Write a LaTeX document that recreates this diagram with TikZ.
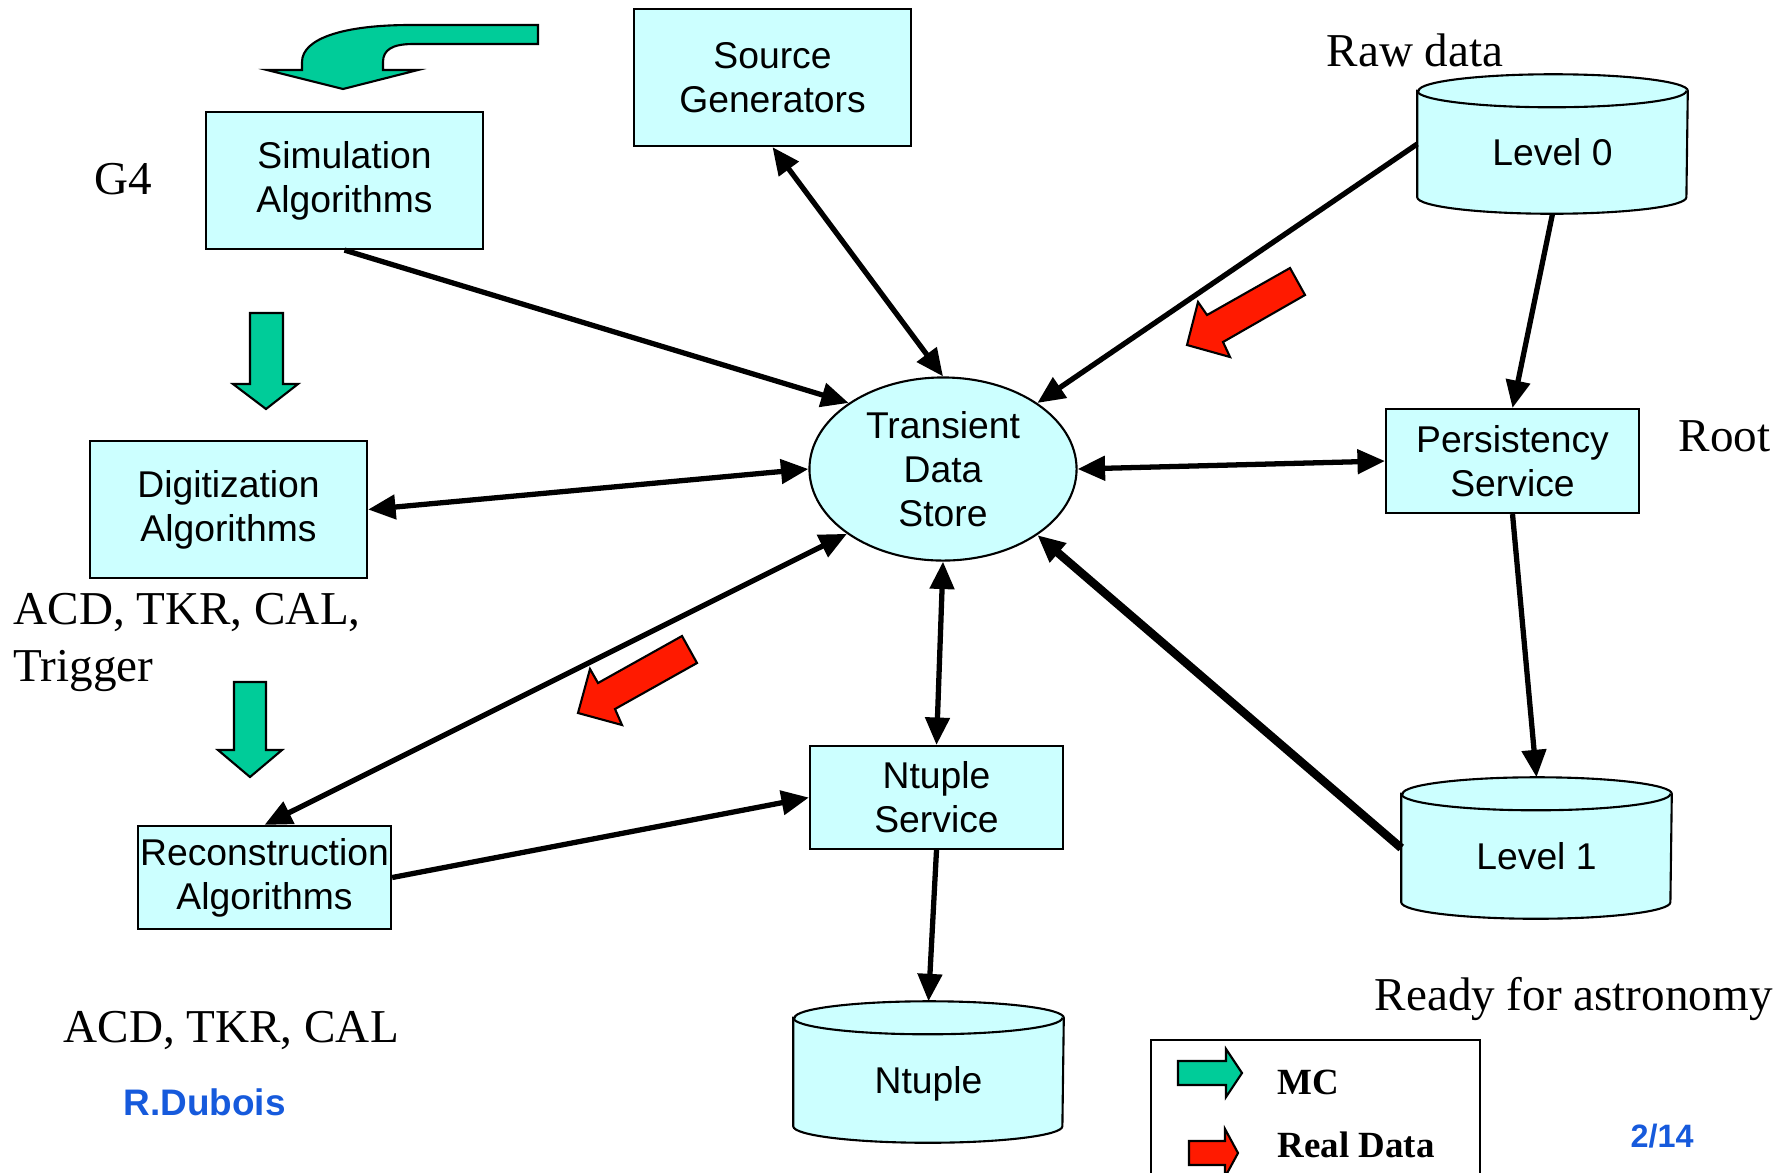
\documentclass[tikz,border=0pt]{standalone}
\usepackage{fontspec}
\setmainfont{Liberation Serif}
\setsansfont{Liberation Sans}
\usetikzlibrary{arrows.meta,shapes.geometric,backgrounds}

\definecolor{cyanfill}{RGB}{204,255,255}
\definecolor{mcgreen}{RGB}{0,204,153}
\definecolor{realred}{RGB}{255,26,0}
\definecolor{signblue}{RGB}{22,90,220}

\newcommand{\boxfont}{\sffamily\fontsize{10.6}{12.5}\selectfont}
\newcommand{\serifbig}{\rmfamily\fontsize{13.4}{16.2}\selectfont}

\begin{document}
\begin{tikzpicture}
    [x=0.01cm,y=0.01cm,>={Triangle[length=7.8pt,width=6.8pt]},
     box/.style={draw, line width=0.6pt, fill=cyanfill, inner sep=0pt, align=center, font=\boxfont},
     db/.style={inner sep=0pt, minimum width=2.69cm, font=\boxfont, text height=12.2pt, text depth=0pt},
     link/.style={line width=1.5pt},
     lbl/.style={inner sep=0pt, font=\serifbig},
     mcshape/.style={draw, line width=0.6pt, fill=mcgreen},
     rdshape/.style={draw, line width=0.6pt, fill=realred}]
    \useasboundingbox (0,0) rectangle (1792,-1172);
    \clip (0,0) rectangle (1792,-1172);

    % boxes
    \node[box, minimum width=2.77cm, minimum height=1.37cm] (sg) at (772.5,-77.5) {Source\\Generators};
    \node[box, minimum width=2.77cm, minimum height=1.37cm] (sim) at (344.5,-180.5) {Simulation\\Algorithms};
    \node[box, minimum width=2.77cm, minimum height=1.37cm] (dig) at (228.5,-509.5) {Digitization\\Algorithms};
    \node[box, minimum width=2.53cm, minimum height=1.03cm] (rec) at (264.5,-877.5) {Reconstruction\\Algorithms};
    \node[box, minimum width=2.53cm, minimum height=1.03cm] (nts) at (936.5,-797.5) {Ntuple\\Service};
    \node[box, minimum width=2.53cm, minimum height=1.04cm] (ps) at (1512.5,-461) {Persistency\\Service};
    \node[box, ellipse, minimum width=2.67cm, minimum height=1.83cm] (tds) at (943,-469) {Transient\\Data\\Store};

    % data files
    \node[db, minimum height=1.38cm] (lv0) at (1552.5,-144) {Level 0};
    \node[db, minimum height=1.40cm] (lv1) at (1536.5,-848) {Level 1};
    \node[db, minimum height=1.40cm] (ntp) at (928.5,-1072) {Ntuple};
    \begin{scope}[on background layer]
      \foreach \c in {lv0,lv1,ntp} {
        \draw[line width=0.6pt, fill=cyanfill] ([yshift=-0.165cm]\c.north west) -- ([yshift=0.165cm]\c.south west)
          arc[start angle=180, end angle=360, x radius=1.345cm, y radius=0.165cm]
          -- ([yshift=-0.165cm]\c.north east)
          arc[start angle=0, end angle=180, x radius=1.345cm, y radius=0.165cm] -- cycle;
        \draw[line width=0.6pt] ([yshift=-0.165cm]\c.north west)
          arc[start angle=180, end angle=360, x radius=1.345cm, y radius=0.165cm];
      }
    \end{scope}

    % labels
    \node[lbl, anchor=base] (rawdata) at (1415,-66) {Raw data};
    \node[lbl, anchor=base west] (g4) at (94,-194) {G4};
    \node[lbl, anchor=base west] (root) at (1678,-451) {Root};
    \node[lbl, anchor=north west, align=left] (digdet) at (13,-593) {ACD, TKR, CAL,\\Trigger};
    \node[lbl, anchor=base west] (recdet) at (63,-1042) {ACD, TKR, CAL};
    \node[lbl, anchor=base west] (ready) at (1374,-1010) {Ready for astronomy};
    \node[inner sep=0pt, anchor=base west, text=signblue, font=\sffamily\bfseries\fontsize{10.5}{12.5}\selectfont] (author) at (123,-1115) {R.Dubois};
    \node[inner sep=0pt, anchor=base west, text=signblue, font=\sffamily\bfseries\fontsize{9.2}{11}\selectfont] (page) at (1630,-1147) {2/14};

    % connectors
    \foreach \from/\to in {sim.south/tds.145, lv0.west/tds.35, lv0.south/ps.north, ps.south/lv1.north, nts.south/ntp.north, rec.east/nts.west}
      \draw[link, ->] (\from) -- (\to);
    \foreach \from/\to in {sg.south/tds.north, tds.east/ps.west, tds.south/nts.north, tds.214/rec.north, tds.west/dig.east}
      \draw[link, <->] (\from) -- (\to);
    \draw[line width=2.4pt, ->] (lv1.west) -- (tds.-35);

    % MC flow
    \draw[mcshape] (302,-70) -- (302,-62) .. controls (302,-38) and (345,-25) .. (410,-25) -- (538,-25) -- (538,-44)
      -- (413,-44) .. controls (392,-44) and (383,-50) .. (383,-62) -- (383,-70) -- (418,-70) -- (343,-89) -- (267,-70) -- cycle;
    \draw[mcshape] (250,-313) -- (283,-313) -- (283,-384) -- (298,-384) -- (266,-409) -- (233,-384) -- (250,-384) -- cycle;
    \draw[mcshape] (234,-682) -- (266,-682) -- (266,-750) -- (282,-750) -- (250,-777) -- (218,-750) -- (234,-750) -- cycle;

    % real data flow
    \draw[rdshape] (1187,-345) -- (1198,-302) -- (1207,-315) -- (1290,-268) -- (1305,-295) -- (1223,-342) -- (1230,-357) -- cycle;
    \draw[rdshape] (578,-713) -- (590,-669) -- (598,-683) -- (682,-636) -- (697,-663) -- (615,-709) -- (622,-725) -- cycle;

    % legend
    \draw[line width=0.8pt] (1151,-1040) rectangle (1480,-1200);
    \draw[mcshape] (1178,-1061) -- (1226,-1061) -- (1226,-1049) -- (1242,-1073) -- (1226,-1097) -- (1226,-1085) -- (1178,-1085) -- cycle;
    \draw[rdshape] (1189,-1141) -- (1225,-1141) -- (1225,-1129) -- (1238,-1153) -- (1225,-1177) -- (1225,-1165) -- (1189,-1165) -- cycle;
    \node[inner sep=0pt, anchor=base west, font=\rmfamily\bfseries\fontsize{10.5}{12}\selectfont] (mc) at (1277,-1094) {MC};
    \node[inner sep=0pt, anchor=base west, font=\rmfamily\bfseries\fontsize{10.5}{12}\selectfont] (real) at (1277,-1157) {Real Data};
\end{tikzpicture}
\end{document}
